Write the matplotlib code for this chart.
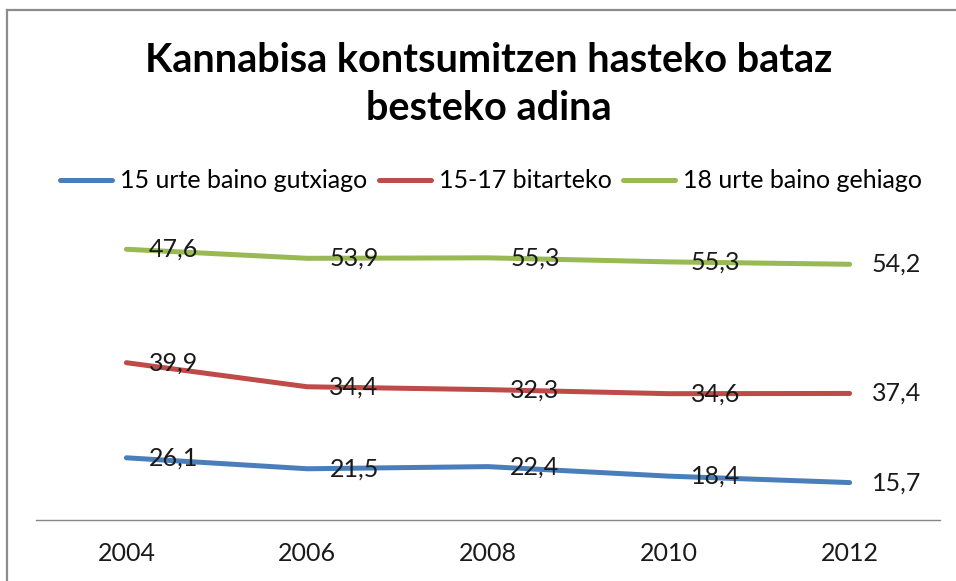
import numpy as np
import matplotlib
matplotlib.use("Agg")
import matplotlib.pyplot as plt
from matplotlib.lines import Line2D

# data (stacked line chart: labels show the raw values)
years = ["2004", "2006", "2008", "2010", "2012"]
under15 = [26.1, 21.5, 22.4, 18.4, 15.7]
age15_17 = [39.9, 34.4, 32.3, 34.6, 37.4]
over18 = [47.6, 53.9, 55.3, 55.3, 54.2]
series_names = ["15 urte baino gutxiago", "15-17 bitarteko", "18 urte baino gehiago"]
colors = ["#4A7EBB", "#BE4B48", "#98B954"]

plt.rcParams['font.family'] = ['Lato', 'DejaVu Sans']

W, H = 956, 581
fig = plt.figure(figsize=(W / 100, H / 100), dpi=100)

# outer chart border (top and left visible)
fig.add_artist(Line2D([7 / W, 7 / W], [0, 1 - 10 / H], color="#8c8c8c", lw=1.6))
fig.add_artist(Line2D([7 / W, 1], [1 - 10 / H, 1 - 10 / H], color="#8c8c8c", lw=1.6))

ax = fig.add_axes([36 / W, 61 / H, 904 / W, 286 / H])

x = np.arange(len(years))
stack = np.cumsum(np.array([under15, age15_17, over18]), axis=0)
raw = [under15, age15_17, over18]

for i in range(3):
    ax.plot(x, stack[i], color=colors[i], lw=3.6, solid_capstyle="round",
            label=series_names[i], zorder=2)
    for xi, yi, v in zip(x, stack[i], raw[i]):
        ax.annotate(f"{v:.1f}".replace(".", ","), (xi, yi), xytext=(16, 0),
                    textcoords="offset points", ha="left", va="center",
                    fontsize=18, color="#1a1a1a", zorder=3)

ax.set_xlim(-0.5, len(years) - 0.5)
ax.set_ylim(0, 120)
ax.set_xticks(x)
ax.set_xticklabels(years, fontsize=18, color="#1a1a1a")
ax.set_yticks([])
ax.tick_params(axis="x", length=0, pad=16)
for s in ["top", "right", "left"]:
    ax.spines[s].set_visible(False)
ax.spines["bottom"].set_color("#868686")
ax.spines["bottom"].set_linewidth(1.0)

# title
fig.text(489 / W, 1 - 60 / H, "Kannabisa kontsumitzen hasteko bataz",
         ha="center", va="center", fontsize=28.5, fontweight="bold", color="#000000")
fig.text(489 / W, 1 - 108 / H, "besteko adina",
         ha="center", va="center", fontsize=28.5, fontweight="bold", color="#000000")

# legend
fig.legend(loc="center", bbox_to_anchor=(491 / W, 1 - 181 / H), ncol=3,
           frameon=False, fontsize=18, handlelength=2.08, handletextpad=0.32,
           columnspacing=0.45)

fig.savefig("out.png", dpi=100)
